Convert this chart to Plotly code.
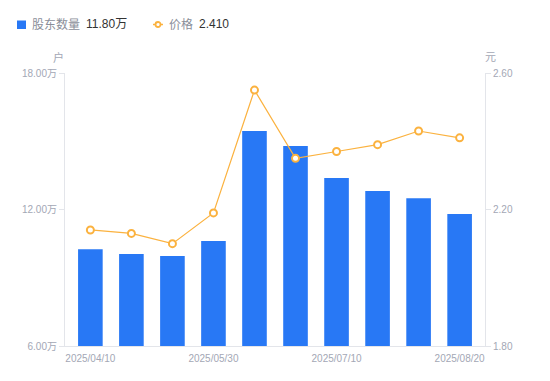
import plotly.graph_objects as go

dates = ["2025/04/10", "2025/04/30", "2025/05/20", "2025/05/30", "2025/06/10",
         "2025/06/20", "2025/07/10", "2025/07/20", "2025/07/31", "2025/08/20"]
holders = [10.25, 10.04, 9.96, 10.62, 15.45, 14.79, 13.38, 12.81, 12.49, 11.80]  # 万户
price = [2.14, 2.13, 2.10, 2.19, 2.55, 2.35, 2.37, 2.39, 2.43, 2.41]
x_tick_dates = [dates[0], dates[3], dates[6], dates[9]]
left_ticks = [6, 12, 18]
right_ticks = [1.8, 2.2, 2.6]

W, H = 550, 381
L, R, T, B = 65, 485, 73, 346
BLUE = "#2878f5"
ORANGE = "#fbb23f"
GREY = "#a3a7b5"
AXIS = "#e3e5ea"
FONT = "Liberation Sans, Noto Sans CJK SC, sans-serif"


def px(x):
    return (x - L) / (R - L)


def py(y):
    return (B - y) / (B - T)


fig = go.Figure()
fig.add_trace(go.Bar(x=dates, y=holders, marker=dict(color=BLUE, line=dict(width=0)),
                     name="股东数量", yaxis="y"))
fig.add_trace(go.Scatter(x=dates, y=price, mode="lines+markers", name="价格", yaxis="y2",
                         line=dict(color=ORANGE, width=1.2),
                         marker=dict(symbol="circle", size=7, color="white",
                                     line=dict(color=ORANGE, width=2))))

fig.update_layout(
    width=W, height=H,
    margin=dict(l=L, r=W - R, t=T, b=H - B),
    paper_bgcolor="white", plot_bgcolor="white",
    showlegend=False,
    bargap=0.4,
    font=dict(family=FONT, size=10, color=GREY),
    xaxis=dict(type="category", tickmode="array", tickvals=x_tick_dates, ticktext=x_tick_dates,
               showline=True, linecolor=AXIS, linewidth=1, showgrid=False, ticks="",
               ticklabelstandoff=3,
               tickfont=dict(size=10, color=GREY), zeroline=False, fixedrange=True),
    yaxis=dict(range=[6, 18], tickvals=left_ticks,
               ticktext=[f"{v:.2f}万" for v in left_ticks],
               showline=True, linecolor=AXIS, linewidth=1, showgrid=False,
               ticks="outside", ticklen=5, tickcolor=AXIS, zeroline=False,
               tickfont=dict(size=10, color=GREY)),
    yaxis2=dict(range=[1.8, 2.6], tickvals=right_ticks,
                ticktext=[f"{v:.2f}" for v in right_ticks],
                overlaying="y", side="right",
                showline=True, linecolor=AXIS, linewidth=1, showgrid=False,
                ticks="outside", ticklen=5, tickcolor=AXIS, zeroline=False,
                tickfont=dict(size=10, color=GREY)),
)

annotations = [
    dict(text="户", x=px(58), y=py(57), xanchor="center", yanchor="middle",
         font=dict(size=11, color=GREY)),
    dict(text="元", x=px(490), y=py(57), xanchor="center", yanchor="middle",
         font=dict(size=11, color=GREY)),
    dict(text="股东数量", x=px(30), y=py(24.5), xanchor="left", yanchor="middle",
         font=dict(size=12, color="#8a8e99")),
    dict(text=f"{holders[-1]:.2f}万", x=px(84), y=py(24.5), xanchor="left", yanchor="middle",
         font=dict(size=12, color="#333333")),
    dict(text="价格", x=px(167), y=py(24.5), xanchor="left", yanchor="middle",
         font=dict(size=12, color="#8a8e99")),
    dict(text=f"{price[-1]:.3f}", x=px(197), y=py(24.5), xanchor="left", yanchor="middle",
         font=dict(size=12, color="#333333")),
]
for a in annotations:
    a.update(xref="paper", yref="paper", showarrow=False)
fig.update_layout(annotations=annotations)

shapes = [
    dict(type="rect", x0=px(17), x1=px(26), y0=py(20.5), y1=py(29), fillcolor=BLUE,
         line=dict(width=0)),
    dict(type="line", x0=px(153), x1=px(163), y0=py(24.5), y1=py(24.5),
         line=dict(color=ORANGE, width=1.5)),
    dict(type="circle", x0=px(155.5), x1=px(160.5), y0=py(22), y1=py(27), fillcolor="white",
         line=dict(color=ORANGE, width=1.8)),
]
for s in shapes:
    s.update(xref="paper", yref="paper")
fig.update_layout(shapes=shapes)

fig.write_html("out.html", config={"displayModeBar": False},
               post_script="document.body.style.margin='0';document.body.style.overflow='hidden';")
